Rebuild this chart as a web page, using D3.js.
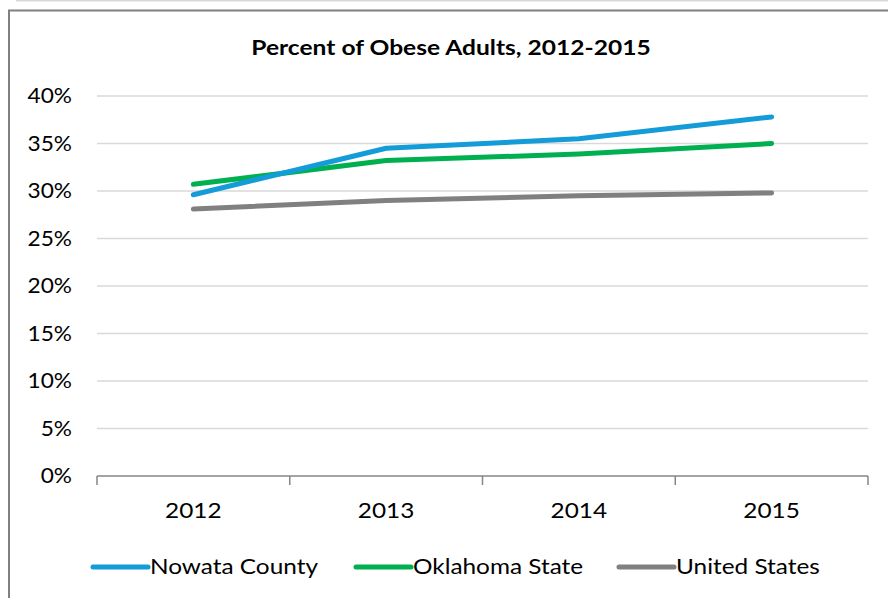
<!DOCTYPE html>
<html>
<head>
<meta charset="utf-8">
<script src="https://cdn.jsdelivr.net/npm/d3@7"></script>
<style>
  body { margin: 0; background: #fff; }
  svg { display: block; font-family: Lato, "Open Sans", sans-serif; }
</style>
</head>
<body>
<svg id="chart" width="888" height="598"></svg>
<script>
var years = ["2012", "2013", "2014", "2015"];
var seriesNames = ["Nowata County", "Oklahoma State", "United States"];
var nowata = [29.6, 34.5, 35.5, 37.8];
var oklahoma = [30.7, 33.2, 33.9, 35.0];
var unitedStates = [28.1, 29.0, 29.5, 29.8];
var yTicks = [0, 5, 10, 15, 20, 25, 30, 35, 40];
var colors = ["#139cd8", "#00b050", "#808080"];

var svg = d3.select("#chart");
var margins = {top: 96, left: 97, right: 20, bottom: 122},
    width = 888 - margins.left - margins.right,
    height = 598 - margins.top - margins.bottom,
    stretch = 1.16;

// frame
svg.append("line").attr("x1", 16).attr("x2", 888).attr("y1", 0.5).attr("y2", 0.5)
    .attr("stroke", "#d9d9d9").attr("stroke-width", 2);
svg.append("path").attr("d", "M9,598V10.5H888")
    .attr("fill", "none").attr("stroke", "#808080").attr("stroke-width", 2);

svg.append("text")
    .attr("transform", "translate(451,55) scale(1.17,1)")
    .attr("text-anchor", "middle")
    .style("font-weight", "bold").style("font-size", "21px")
    .attr("fill", "#000")
    .text("Percent of Obese Adults, 2012-2015");

var g = svg.append("g").attr("transform", "translate(" + margins.left + "," + margins.top + ")");

var x = d3.scaleBand().domain(years).range([0, width]);
var y = d3.scaleLinear().domain([0, 40]).range([height, 0]);

// gridlines
g.append("g").selectAll("line").data(yTicks.slice(1)).enter().append("line")
    .attr("x1", 0).attr("x2", width)
    .attr("y1", function(d) { return y(d); }).attr("y2", function(d) { return y(d); })
    .attr("stroke", "#d9d9d9").attr("stroke-width", 1.5);

// y labels
var yAxis = g.append("g")
    .call(d3.axisLeft(y).tickValues(yTicks).tickSize(0)
        .tickFormat(function(d) { return d + "%"; }));
yAxis.select(".domain").remove();
yAxis.selectAll("text").style("font-size", "21px").attr("fill", "#000")
    .attr("font-family", "Lato, 'Open Sans', sans-serif")
    .attr("x", -25 / 1.08)
    .attr("transform", "scale(1.08,1)");

// x axis
var xAxis = g.append("g").attr("transform", "translate(0," + height + ")")
    .call(d3.axisBottom(x).tickSize(0).tickPadding(27));
xAxis.select(".domain").attr("stroke", "#868686").attr("stroke-width", 1.5)
    .attr("d", "M0,0H" + width);
xAxis.selectAll("text").style("font-size", "21px").attr("fill", "#000")
    .attr("font-family", "Lato, 'Open Sans', sans-serif")
    .attr("transform", "scale(" + stretch + ",1)");
var bounds = years.map(function(d) { return x(d); }).concat([width]);
xAxis.selectAll(".bound").data(bounds).enter().append("line")
    .attr("class", "bound")
    .attr("x1", function(d) { return d; }).attr("x2", function(d) { return d; })
    .attr("y1", 0).attr("y2", 9)
    .attr("stroke", "#868686").attr("stroke-width", 1.5);

// lines
var allSeries = [nowata, oklahoma, unitedStates];
var line = d3.line()
    .x(function(d, i) { return x(years[i]) + x.bandwidth() / 2; })
    .y(function(d) { return y(d); });

g.selectAll(".series").data(allSeries.slice().reverse()).enter().append("path")
    .attr("class", "series")
    .attr("d", line)
    .attr("fill", "none")
    .attr("stroke", function(d, i) { return colors[2 - i]; })
    .attr("stroke-width", 5)
    .attr("stroke-linecap", "round")
    .attr("stroke-linejoin", "round");

// legend
var legendX = [93, 356, 619];
var legend = svg.append("g").selectAll("g").data(seriesNames).enter().append("g")
    .attr("transform", function(d, i) { return "translate(" + legendX[i] + ",567)"; });
legend.append("line")
    .attr("x1", 0).attr("x2", 55).attr("y1", 0).attr("y2", 0)
    .attr("stroke", function(d, i) { return colors[i]; })
    .attr("stroke-width", 5).attr("stroke-linecap", "round");
legend.append("text")
    .attr("transform", "translate(57,7) scale(" + stretch + ",1)")
    .style("font-size", "21px").attr("fill", "#000")
    .text(function(d) { return d; });
</script>
</body>
</html>
